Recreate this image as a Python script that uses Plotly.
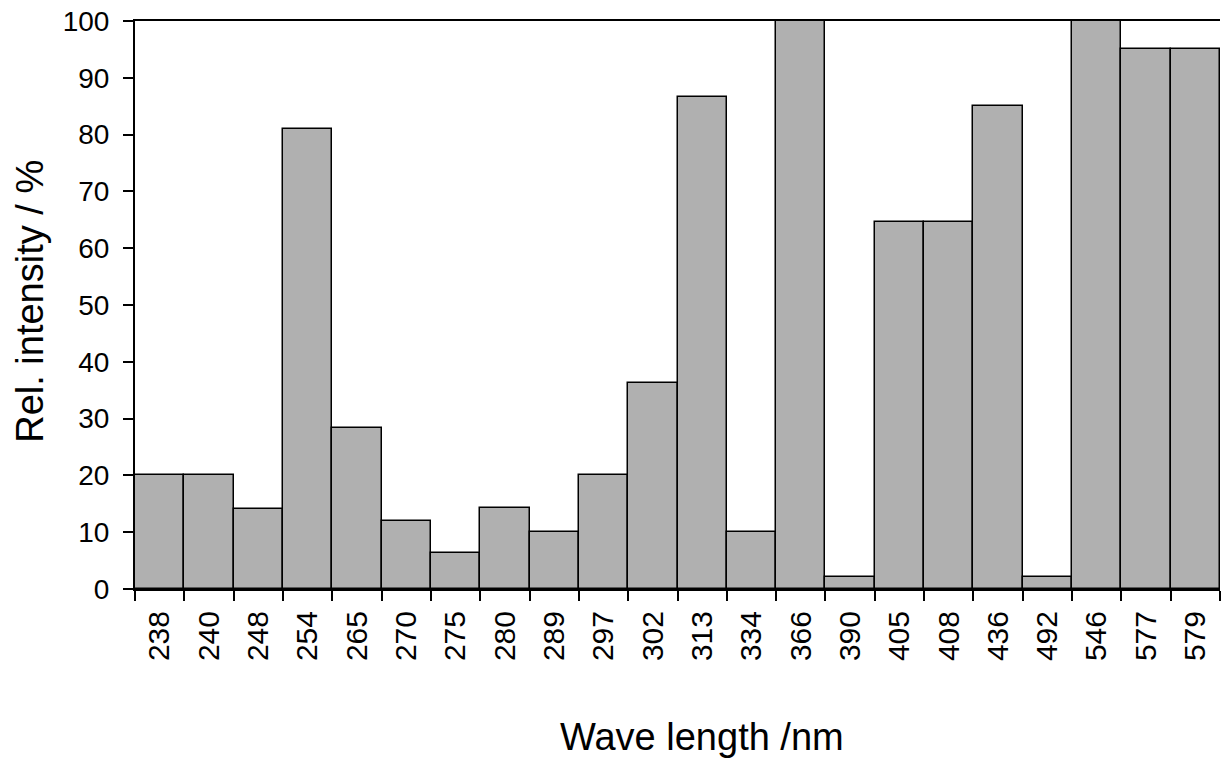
import plotly.graph_objects as go

# wavelengths (nm) and relative intensity (%)
wavelengths = ["238", "240", "248", "254", "265", "270", "275", "280", "289", "297", "302",
               "313", "334", "366", "390", "405", "408", "436", "492", "546", "577", "579"]
intensity = [20, 20, 14.1, 80.9, 28.3, 12, 6.3, 14.2, 10, 20, 36.3,
             86.7, 10, 100, 2.2, 64.7, 64.7, 85, 2.2, 100, 95, 95]

fig = go.Figure(go.Bar(
    x=wavelengths,
    y=intensity,
    marker=dict(color="#b0b0b0", line=dict(color="black", width=1.5)),
    width=1,
))

font = "Liberation Sans, Arial, sans-serif"

fig.update_layout(
    width=1221, height=758,
    margin=dict(l=135, r=1, t=21, b=169),
    plot_bgcolor="white", paper_bgcolor="white",
    font=dict(family=font, color="black", size=28),
    showlegend=False,
    bargap=0,
)

fig.update_xaxes(
    type="category",
    tickangle=-90,
    tickson="boundaries",
    ticks="outside", ticklen=10, tickwidth=2, tickcolor="black",
    ticklabelstandoff=8,
    showline=True, linecolor="black", linewidth=2, mirror=True,
    showgrid=False,
    tickfont=dict(size=30),
)
fig.update_yaxes(
    range=[0, 100], tickvals=list(range(0, 101, 10)),
    ticks="outside", ticklen=10, tickwidth=2, tickcolor="black",
    ticklabelstandoff=8,
    showline=True, linecolor="black", linewidth=2,
    showgrid=False, zeroline=False,
    tickfont=dict(size=28),
)

fig.add_annotation(text="Wave length /nm", xref="paper", yref="paper",
                   x=0.523, y=-0.26, yanchor="middle", showarrow=False,
                   font=dict(size=38))
fig.add_annotation(text="Rel. intensity / %", xref="paper", yref="paper",
                   x=-0.097, y=0.507, textangle=-90, xanchor="center", showarrow=False,
                   font=dict(size=38))

# drop the default body margin so the figure fills the window exactly
fig.write_html("out.html", config={"displayModeBar": False},
               post_script="document.body.style.margin='0';")
